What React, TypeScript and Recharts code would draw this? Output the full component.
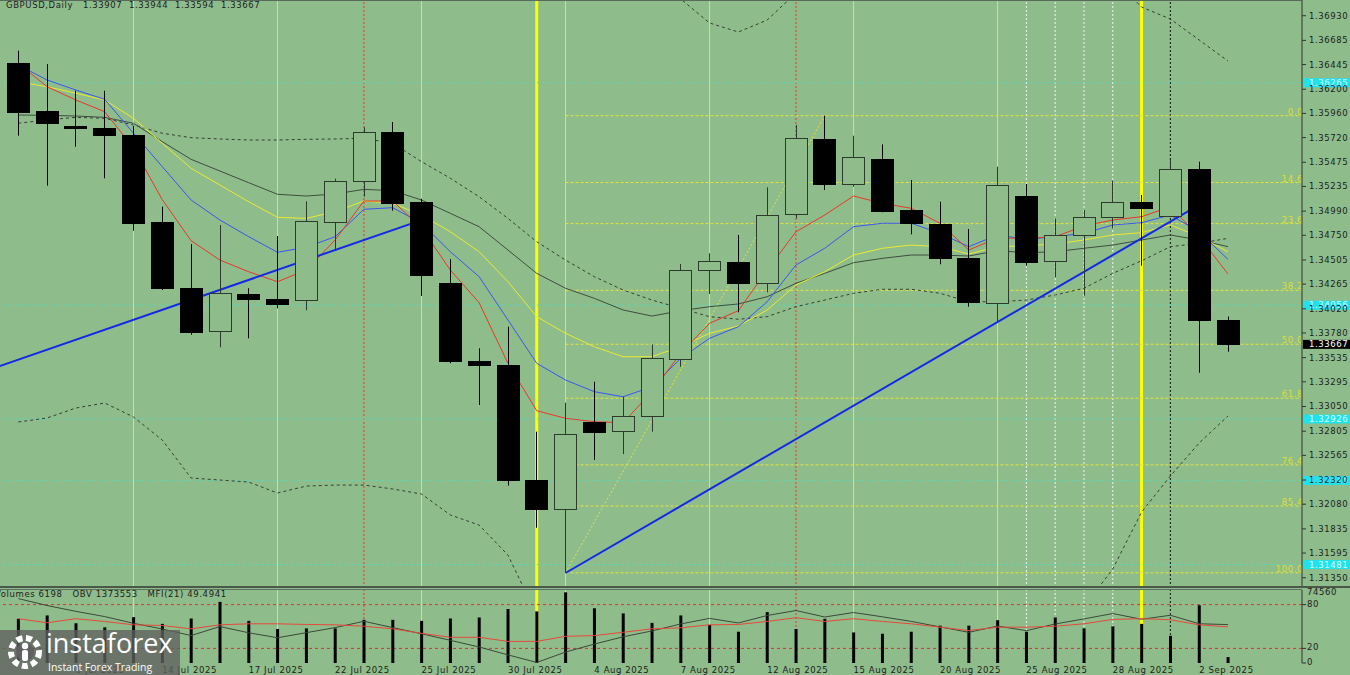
import React from "react";
import { ComposedChart, Bar, Line, XAxis, YAxis, ReferenceLine } from "recharts";

const dates = [
  "7 Jul 2025", "8 Jul 2025", "9 Jul 2025", "10 Jul 2025", "11 Jul 2025",
  "14 Jul 2025", "15 Jul 2025", "16 Jul 2025", "17 Jul 2025", "18 Jul 2025",
  "21 Jul 2025", "22 Jul 2025", "23 Jul 2025", "24 Jul 2025", "25 Jul 2025",
  "28 Jul 2025", "29 Jul 2025", "30 Jul 2025", "31 Jul 2025", "1 Aug 2025",
  "4 Aug 2025", "5 Aug 2025", "6 Aug 2025", "7 Aug 2025", "8 Aug 2025",
  "11 Aug 2025", "12 Aug 2025", "13 Aug 2025", "14 Aug 2025", "15 Aug 2025",
  "18 Aug 2025", "19 Aug 2025", "20 Aug 2025", "21 Aug 2025", "22 Aug 2025",
  "25 Aug 2025", "26 Aug 2025", "27 Aug 2025", "28 Aug 2025", "29 Aug 2025",
  "1 Sep 2025", "2 Sep 2025", "3 Sep 2025",
];

const opens = [1.36463, 1.35984, 1.35835, 1.35812, 1.35746, 1.34882, 1.34229, 1.33793, 1.34167, 1.3412, 1.341, 1.34879, 1.35289, 1.35775, 1.3508, 1.34279, 1.33505, 1.33462, 1.3232, 1.32029, 1.32899, 1.32807, 1.32949, 1.33518, 1.34402, 1.34488, 1.34279, 1.34958, 1.35703, 1.35259, 1.3551, 1.34999, 1.34859, 1.34521, 1.34081, 1.35143, 1.34495, 1.34756, 1.34929, 1.35077, 1.34941, 1.35405, 1.33907];
const highs = [1.36583, 1.36451, 1.36185, 1.36185, 1.35835, 1.35034, 1.34663, 1.34852, 1.34224, 1.34743, 1.35087, 1.35312, 1.35822, 1.35875, 1.35113, 1.34514, 1.33628, 1.33842, 1.328, 1.33088, 1.33296, 1.33147, 1.33667, 1.34465, 1.34571, 1.34753, 1.35226, 1.35845, 1.35937, 1.35739, 1.35653, 1.35299, 1.35083, 1.34812, 1.35431, 1.35259, 1.34918, 1.35001, 1.35292, 1.3515, 1.35497, 1.3548, 1.33944];
const lows = [1.35739, 1.35242, 1.35629, 1.35316, 1.34795, 1.34207, 1.33763, 1.33638, 1.33727, 1.34025, 1.34005, 1.34597, 1.35133, 1.34994, 1.34147, 1.33479, 1.33065, 1.32264, 1.31846, 1.31399, 1.32519, 1.32578, 1.328, 1.33445, 1.34167, 1.33985, 1.34184, 1.34918, 1.352, 1.35232, 1.34978, 1.3476, 1.34462, 1.34041, 1.33892, 1.34448, 1.34333, 1.3415, 1.34819, 1.34448, 1.3493, 1.33385, 1.33594];
const closes = [1.35977, 1.35868, 1.35812, 1.35739, 1.34872, 1.34229, 1.3379, 1.34174, 1.3412, 1.34075, 1.34889, 1.35289, 1.35775, 1.35073, 1.34353, 1.33505, 1.33462, 1.3232, 1.32029, 1.32774, 1.328, 1.32956, 1.33528, 1.34402, 1.34495, 1.34279, 1.34951, 1.35713, 1.35259, 1.3553, 1.34998, 1.34869, 1.34521, 1.34085, 1.35249, 1.34492, 1.3475, 1.34934, 1.3508, 1.35018, 1.35405, 1.33909, 1.33667];

const maRed = [1.36458, 1.36225, 1.36093, 1.35977, 1.35617, 1.35103, 1.34696, 1.34504, 1.34388, 1.34289, 1.34405, 1.34703, 1.3509, 1.3509, 1.34822, 1.34405, 1.34081, 1.33479, 1.33008, 1.32933, 1.32899, 1.32889, 1.33197, 1.33578, 1.33876, 1.34001, 1.34405, 1.34785, 1.34951, 1.3514, 1.35067, 1.35018, 1.34869, 1.34604, 1.34723, 1.3472, 1.34736, 1.34842, 1.34902, 1.34934, 1.35034, 1.34736, 1.34366];
const maBlue = [1.36441, 1.36292, 1.36192, 1.361, 1.35763, 1.35431, 1.351, 1.34902, 1.34736, 1.34581, 1.34631, 1.34736, 1.35008, 1.35024, 1.34869, 1.34587, 1.34339, 1.33909, 1.33479, 1.33313, 1.33197, 1.33147, 1.33246, 1.33528, 1.33727, 1.33842, 1.3409, 1.34455, 1.34621, 1.34835, 1.34869, 1.34869, 1.3477, 1.34637, 1.34753, 1.3471, 1.34736, 1.3477, 1.34852, 1.34875, 1.34951, 1.34785, 1.34511];
const maYellow = [1.36275, 1.36225, 1.3616, 1.36093, 1.35911, 1.35663, 1.35415, 1.35249, 1.35083, 1.34928, 1.34918, 1.34984, 1.3509, 1.35067, 1.34951, 1.34785, 1.34587, 1.34289, 1.33942, 1.33777, 1.33644, 1.33544, 1.33544, 1.33644, 1.33777, 1.33849, 1.34008, 1.34256, 1.34388, 1.34554, 1.34621, 1.34653, 1.34637, 1.34564, 1.34637, 1.34646, 1.34663, 1.34703, 1.34753, 1.34776, 1.34852, 1.34736, 1.34587];
const maGray = [1.35944, 1.35941, 1.35934, 1.35921, 1.35862, 1.35679, 1.35504, 1.35388, 1.35272, 1.35157, 1.3514, 1.3516, 1.35206, 1.35193, 1.351, 1.34968, 1.34835, 1.34604, 1.34372, 1.34224, 1.34124, 1.34008, 1.33948, 1.34001, 1.34041, 1.34068, 1.3414, 1.34273, 1.34372, 1.34478, 1.34521, 1.34554, 1.34554, 1.34544, 1.34597, 1.34577, 1.34587, 1.34621, 1.34653, 1.34703, 1.34753, 1.34703, 1.34637];
const bbUpper = [1.38828, 1.38853, 1.38808, 1.38738, 1.38744, 1.38808, 1.39098, 1.39092, 1.39102, 1.39201, 1.39145, 1.39141, 1.39155, 1.39096, 1.3878, 1.38659, 1.38393, 1.38262, 1.38393, 1.38059, 1.37708, 1.37424, 1.37235, 1.37096, 1.36858, 1.36768, 1.36887, 1.37156, 1.37384, 1.37533, 1.37583, 1.37583, 1.37533, 1.37434, 1.37483, 1.37483, 1.37463, 1.37384, 1.37308, 1.37016, 1.36897, 1.36689, 1.3648];
const bbMiddle = [1.35862, 1.35895, 1.35921, 1.35911, 1.35845, 1.35763, 1.35719, 1.35706, 1.35696, 1.35696, 1.35703, 1.35706, 1.35713, 1.35663, 1.35481, 1.35316, 1.35133, 1.34918, 1.34686, 1.34504, 1.34339, 1.34207, 1.34107, 1.34025, 1.33942, 1.33916, 1.33942, 1.34041, 1.34107, 1.34174, 1.34214, 1.34214, 1.34174, 1.3409, 1.3409, 1.34107, 1.34157, 1.34224, 1.34372, 1.34497, 1.34637, 1.3467, 1.3472];
const bbLower = [1.32896, 1.32936, 1.33035, 1.33085, 1.32946, 1.32717, 1.3234, 1.3232, 1.323, 1.32191, 1.3226, 1.3227, 1.3227, 1.32231, 1.32181, 1.31973, 1.31873, 1.31575, 1.3098, 1.3095, 1.3097, 1.3099, 1.3098, 1.30944, 1.31025, 1.31063, 1.30996, 1.30916, 1.30831, 1.30815, 1.30845, 1.30845, 1.30815, 1.30747, 1.30698, 1.30731, 1.30851, 1.31063, 1.31436, 1.32002, 1.3236, 1.32688, 1.32956];

const volumes = [46630, 50170, 41900, 37600, 48350, 41260, 46950, 64460, 44480, 35880, 36530, 36530, 45550, 45550, 44480, 46950, 48030, 56940, 54470, 74560, 57700, 52320, 42330, 50170, 40180, 32980, 53720, 35880, 46630, 32230, 30840, 32980, 39430, 39430, 45120, 32980, 48030, 36530, 38680, 41260, 28690, 60920, 6198];
const obvValues = [1561001, 1510831, 1468931, 1431331, 1382981, 1341721, 1294771, 1359231, 1314751, 1278871, 1315401, 1351931, 1397481, 1351931, 1307451, 1260501, 1212471, 1155531, 1101061, 1175621, 1233321, 1285641, 1327971, 1378141, 1418321, 1385341, 1439061, 1474941, 1428311, 1460541, 1429701, 1396721, 1357291, 1317861, 1362981, 1330001, 1378031, 1414561, 1453241, 1411981, 1440671, 1379751, 1373553];
const mfiValues = [60.7, 55.1, 60.7, 56.9, 52.3, 51.4, 46.8, 52.3, 53.7, 53.7, 52.8, 52.3, 50.4, 46.8, 40.7, 35.2, 35.2, 29.6, 29.6, 36.6, 37.5, 42.1, 46.8, 48.2, 52.3, 52.8, 56.9, 62.1, 56.9, 60.7, 56.9, 53.7, 49.1, 44.4, 49.1, 49.1, 50.4, 53.7, 59.7, 60.7, 59.3, 52.3, 49.49];

const priceTicks = [1.3693, 1.36685, 1.36445, 1.362, 1.3596, 1.3572, 1.35475, 1.35235, 1.3499, 1.3475, 1.34505, 1.34265, 1.3402, 1.3378, 1.33535, 1.33295, 1.3305, 1.32805, 1.32565, 1.3232, 1.3208, 1.31835, 1.31595, 1.3135];
const dateTicks = [2, 5, 8, 11, 14, 17, 20, 23, 26, 29, 32, 35, 38, 41];
const levelPrices = [1.36265, 1.34056, 1.32926, 1.32316, 1.31481];
const lastPrice = 1.33667;

const fibLevels = [
  { label: "0.0", price: 1.35937 },
  { label: "14.6", price: 1.35274 },
  { label: "23.6", price: 1.34866 },
  { label: "38.2", price: 1.34203 },
  { label: "50.0", price: 1.33668 },
  { label: "61.8", price: 1.33132 },
  { label: "76.4", price: 1.3247 },
  { label: "85.4", price: 1.32062 },
  { label: "100.0", price: 1.31399 },
];
const fibStart = 19;
const fibSwing = [{ idx: 19, price: 1.31399 }, { idx: 28, price: 1.35937 }];
const trendA = [{ idx: -1, price: 1.33416 }, { idx: 14, price: 1.34901 }];
const trendB = [{ idx: 19, price: 1.31397 }, { idx: 41, price: 1.35052 }];

const weekLines = [4, 9, 14, 19, 24, 29, 34];
const boldLines = [18, 39];
const redLines = [12, 27];
const whiteLines = [35, 36, 37, 38];
const blackLines = [40];

const X_MIN = -0.635;
const X_MAX = 44.57;
const Y_MIN = 1.31248;
const Y_MAX = 1.37086;
const OBV_MIN = 1097073;
const OBV_MAX = 1622673;

const BG = "#8fbc8b";
const BULL = "#2b3a2b";
const FONT = "DejaVu Sans";
const TXT = "#1c1c1c";

const rows = dates.map((d, i) => ({
  idx: i,
  date: d,
  open: opens[i],
  high: highs[i],
  low: lows[i],
  close: closes[i],
  range: [lows[i], highs[i]],
  red: maRed[i],
  blue: maBlue[i],
  yellow: maYellow[i],
  gray: maGray[i],
  bbUp: bbUpper[i],
  bbMid: bbMiddle[i],
  bbLow: bbLower[i],
  volume: volumes[i],
  obv: obvValues[i],
  mfi: mfiValues[i],
}));

const allIdx = rows.map((r) => r.idx);

function Candle(props: any) {
  const { x, y, width, height, payload } = props;
  if (x == null || payload == null) return null;
  const cx = Math.round(x + width / 2) + 0.5;
  const { open, close, high, low } = payload;
  const span = high - low || 1e-9;
  const top = Math.min(y, y + height);
  const h = Math.abs(height);
  const py = (v: number) => top + ((high - v) / span) * h;
  const bTop = py(Math.max(open, close));
  const bBot = py(Math.min(open, close));
  const bull = close > open;
  const col = bull ? BULL : "#000";
  return (
    <g>
      <line x1={cx} x2={cx} y1={top} y2={top + h} stroke={col} strokeWidth={1} />
      <rect
        x={cx - 11}
        y={Math.round(bTop) + 0.5}
        width={22}
        height={Math.max(Math.round(bBot - bTop), 1)}
        fill={bull ? BG : "#000"}
        stroke={col}
        strokeWidth={1}
      />
    </g>
  );
}

const textStyle = { fontFamily: FONT, fontSize: 8.5, letterSpacing: 0.6 };

function PriceTick(props: any) {
  const { x, y, payload } = props;
  return (
    <text x={x} y={y} dy="0.35em" textAnchor="start" fill={TXT} style={textStyle}>
      {Number(payload.value).toFixed(5)}
    </text>
  );
}

function PanelTick(props: any) {
  const { x, y, payload } = props;
  return (
    <text x={x - 2} y={y - 1} dy="0.35em" textAnchor="start" fill={TXT} style={textStyle}>
      {payload.value}
    </text>
  );
}

function DateTick(props: any) {
  const { x, y, payload } = props;
  return (
    <text x={x} y={y + 10} textAnchor="start" fill={TXT} style={textStyle}>
      {dates[payload.value]}
    </text>
  );
}

function tagLabel(text: string, bg: string, fg: string) {
  return (p: any) => {
    const vb = p.viewBox || {};
    const x = vb.x + vb.width + 1;
    const y = vb.y;
    return (
      <g>
        <rect x={x} y={y - 4.5} width={47} height={9} fill={bg} />
        <text x={x + 6} y={y} dy="0.35em" fill={fg} style={textStyle}>
          {text}
        </text>
      </g>
    );
  };
}

function fibLabel(text: string) {
  return (p: any) => {
    const vb = p.viewBox || {};
    return (
      <text x={vb.x + vb.width + 1} y={vb.y - 1} textAnchor="end" fill="#dede3a" style={textStyle}>
        {text}
      </text>
    );
  };
}

function verticalMarks(yAxisId: any) {
  const out: any[] = [];
  weekLines.forEach((i) =>
    out.push(<ReferenceLine key={"w" + i} yAxisId={yAxisId} x={i} stroke="#e6e63a" strokeWidth={1} />)
  );
  boldLines.forEach((i) =>
    out.push(<ReferenceLine key={"b" + i} yAxisId={yAxisId} x={i} stroke="#ffff00" strokeWidth={3} />)
  );
  redLines.forEach((i) =>
    out.push(<ReferenceLine key={"r" + i} yAxisId={yAxisId} x={i} stroke="#ff2a2a" strokeDasharray="2 2" />)
  );
  whiteLines.forEach((i) =>
    out.push(<ReferenceLine key={"wh" + i} yAxisId={yAxisId} x={i} stroke="#f4f4f4" strokeDasharray="2 2" />)
  );
  blackLines.forEach((i) =>
    out.push(<ReferenceLine key={"k" + i} yAxisId={yAxisId} x={i} stroke="#151515" strokeDasharray="2 2" />)
  );
  return out;
}

function Logo() {
  return (
    <div
      style={{
        position: "absolute",
        left: 0,
        top: 630,
        width: 180,
        height: 45,
        background: "rgba(96,96,96,0.78)",
        color: "#fff",
        fontFamily: "Open Sans",
      }}
    >
      <svg width={46} height={45} style={{ position: "absolute", left: 3, top: 0 }}>
        <circle cx={22} cy={22} r={14} fill="none" stroke="#fff" strokeWidth={6} strokeDasharray="6 3.5" />
        <circle cx={22} cy={22} r={9} fill="rgba(96,96,96,1)" />
        <circle cx={22} cy={16} r={3.2} fill="#fff" />
        <rect x={19} y={20} width={6} height={11} rx={2} fill="#fff" />
      </svg>
      <div style={{ position: "absolute", left: 46, top: -5, fontSize: 27, lineHeight: "36px", whiteSpace: "pre" }}>
        instaforex
      </div>
      <div style={{ position: "absolute", left: 48, top: 30, fontSize: 10.5, lineHeight: "14px", whiteSpace: "pre" }}>
        Instant Forex Trading
      </div>
    </div>
  );
}

const layer = (top: number) => ({ position: "absolute" as const, left: 0, top });

export default function App() {
  return (
    <div style={{ position: "absolute", left: 0, top: 0, width: 1350, height: 675, background: BG, overflow: "hidden" }}>
      {/* price window: back layer with indicators and objects */}
      <div style={layer(0)}>
        <ComposedChart width={1350} height={588} data={rows} margin={{ top: 0, right: 0, bottom: 0, left: 0 }}>
          <XAxis type="number" dataKey="idx" domain={[X_MIN, X_MAX]} ticks={allIdx} hide allowDataOverflow />
          <YAxis
            orientation="right"
            width={48}
            domain={[Y_MIN, Y_MAX]}
            allowDataOverflow
            ticks={priceTicks}
            interval={0}
            tick={<PriceTick />}
            tickSize={4}
            tickMargin={3}
            axisLine={{ stroke: "#333" }}
            tickLine={{ stroke: "#333" }}
          />
          {verticalMarks(0)}
          {levelPrices.map((p) => (
            <ReferenceLine key={"lv" + p} y={p} stroke="#3fe0d0" strokeDasharray="3 3" />
          ))}
          {fibLevels.map((f) => (
            <ReferenceLine
              key={"fib" + f.label}
              segment={[
                { x: fibStart, y: f.price },
                { x: X_MAX, y: f.price },
              ]}
              stroke="#e4e43a"
              strokeDasharray="3 2"
              label={fibLabel(f.label)}
            />
          ))}
          <ReferenceLine
            segment={fibSwing.map((p) => ({ x: p.idx, y: p.price }))}
            stroke="#e4e43a"
            strokeDasharray="2 2"
          />
          <Line dataKey="bbUp" stroke="#334033" strokeDasharray="3 3" dot={false} isAnimationActive={false} />
          <Line dataKey="bbMid" stroke="#334033" strokeDasharray="3 3" dot={false} isAnimationActive={false} />
          <Line dataKey="bbLow" stroke="#334033" strokeDasharray="3 3" dot={false} isAnimationActive={false} />
          <Line dataKey="gray" stroke="#3e4e3e" dot={false} isAnimationActive={false} />
          <Line dataKey="yellow" stroke="#eaea32" dot={false} isAnimationActive={false} />
          <Line dataKey="blue" stroke="#3a56f0" dot={false} isAnimationActive={false} />
          <Line dataKey="red" stroke="#e8382a" dot={false} isAnimationActive={false} />
          <ReferenceLine
            segment={trendA.map((p) => ({ x: p.idx, y: p.price }))}
            stroke="#1428e8"
            strokeWidth={2}
            ifOverflow="visible"
          />
          <ReferenceLine
            segment={trendB.map((p) => ({ x: p.idx, y: p.price }))}
            stroke="#1428e8"
            strokeWidth={2}
          />
          {levelPrices.map((p) => (
            <ReferenceLine
              key={"tag" + p}
              y={p}
              stroke="none"
              label={tagLabel(p.toFixed(5), "#1fe3ec", "#d6ffff")}
            />
          ))}
          <ReferenceLine y={lastPrice} stroke="none" label={tagLabel(lastPrice.toFixed(5), "#000", "#fff")} />
        </ComposedChart>
      </div>

      {/* price window: candles in the foreground */}
      <div style={layer(0)}>
        <ComposedChart width={1350} height={588} data={rows} margin={{ top: 0, right: 48, bottom: 0, left: 0 }}>
          <XAxis type="number" dataKey="idx" domain={[X_MIN, X_MAX]} ticks={allIdx} hide allowDataOverflow />
          <YAxis hide domain={[Y_MIN, Y_MAX]} allowDataOverflow />
          <Bar dataKey="range" barSize={22} isAnimationActive={false} shape={(p: any) => <Candle {...p} />} />
        </ComposedChart>
      </div>

      {/* indicator window: back layer with scale, levels and markers */}
      <div style={layer(588)}>
        <ComposedChart width={1350} height={87} data={rows} margin={{ top: 2, right: 0, bottom: 0, left: 0 }}>
          <XAxis
            type="number"
            dataKey="idx"
            domain={[X_MIN, X_MAX]}
            ticks={dateTicks}
            interval={0}
            tick={<DateTick />}
            tickLine={false}
            axisLine={false}
            tickSize={0}
            tickMargin={0}
            height={12}
            allowDataOverflow
          />
          <YAxis
            yAxisId="mfi"
            orientation="right"
            width={48}
            domain={[0, 100]}
            ticks={[0, 20, 80]}
            interval={0}
            tick={<PanelTick />}
            tickSize={4}
            tickMargin={3}
            axisLine={{ stroke: "#333" }}
            tickLine={{ stroke: "#333" }}
          />
          <YAxis yAxisId="vol" hide domain={[0, 77000]} />
          <Line yAxisId="mfi" dataKey="mfi" stroke="none" dot={false} isAnimationActive={false} />
          <Line yAxisId="vol" dataKey="volume" stroke="none" dot={false} isAnimationActive={false} />
          {verticalMarks("mfi")}
          <ReferenceLine yAxisId="mfi" y={80} stroke="#e03030" strokeDasharray="3 3" />
          <ReferenceLine yAxisId="mfi" y={20} stroke="#e03030" strokeDasharray="3 3" />
          <ReferenceLine
            yAxisId="vol"
            y={74560}
            stroke="none"
            label={(p: any) => (
              <text x={p.viewBox.x + p.viewBox.width + 5} y={p.viewBox.y} dy="0.35em" fill={TXT} style={textStyle}>
                74560
              </text>
            )}
          />
        </ComposedChart>
      </div>

      {/* indicator window: volumes, OBV and MFI in front */}
      <div style={layer(588)}>
        <ComposedChart width={1350} height={87} data={rows} margin={{ top: 2, right: 48, bottom: 12, left: 0 }}>
          <XAxis type="number" dataKey="idx" domain={[X_MIN, X_MAX]} ticks={dateTicks} hide allowDataOverflow />
          <YAxis yAxisId="mfi" hide domain={[0, 100]} />
          <YAxis yAxisId="vol" hide domain={[0, 77000]} />
          <YAxis yAxisId="obv" hide domain={[OBV_MIN, OBV_MAX]} allowDataOverflow />
          <Bar yAxisId="vol" dataKey="volume" barSize={3} fill="#000" isAnimationActive={false} />
          <Line yAxisId="obv" dataKey="obv" stroke="#3a4a3a" dot={false} isAnimationActive={false} />
          <Line yAxisId="mfi" dataKey="mfi" stroke="#e8483a" dot={false} isAnimationActive={false} />
        </ComposedChart>
      </div>

      <div style={{ position: "absolute", left: 0, top: 0, width: 1302, height: 1, background: "#5a6a5a" }} />
      <div style={{ position: "absolute", left: 0, top: 586, width: 1350, height: 2, background: "#4a584a" }} />
      <div style={{ position: "absolute", left: 0, top: 589, width: 1302, height: 1, background: "#5f6f5f" }} />

      <div
        style={{
          position: "absolute",
          left: 6,
          top: 0,
          ...textStyle,
          lineHeight: "11px",
          color: TXT,
          whiteSpace: "pre",
        }}
      >
        {"GBPUSD,Daily   1.33907  1.33944  1.33594  1.33667"}
      </div>
      <div
        style={{
          position: "absolute",
          left: -5,
          top: 589,
          ...textStyle,
          lineHeight: "11px",
          color: TXT,
          whiteSpace: "pre",
        }}
      >
        {"Volumes 6198   OBV 1373553   MFI(21) 49.4941"}
      </div>
      <Logo />
    </div>
  );
}
